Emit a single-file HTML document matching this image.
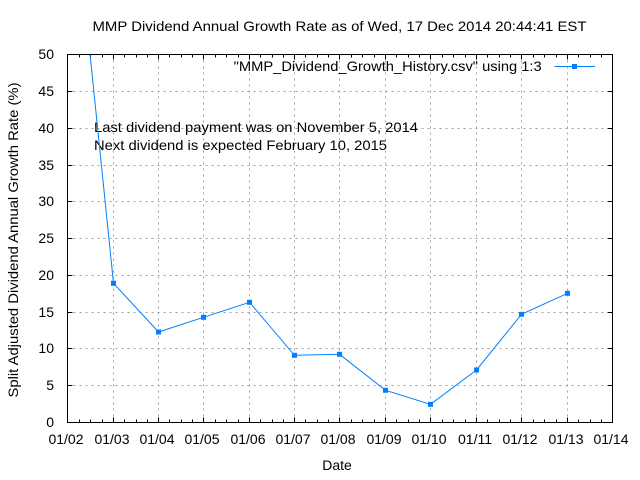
<!DOCTYPE html>
<html>
<head>
<meta charset="utf-8">
<style>
html,body{margin:0;padding:0;background:#fff;}
svg{display:block;}
text{font-family:"Liberation Sans",Arial,sans-serif;font-size:14px;fill:#000;}
</style>
</head>
<body>
<svg width="640" height="480" viewBox="0 0 640 480" xmlns="http://www.w3.org/2000/svg">
<rect x="0" y="0" width="640" height="480" fill="#fff"/>
<defs>
<clipPath id="pa"><rect x="67.5" y="54.5" width="545" height="368"/></clipPath>
</defs>

<!-- grid -->
<g stroke="#a0a0a0" stroke-width="1" stroke-dasharray="2,4" fill="none">
<path d="M113.5 54.5V422.5M158.5 54.5V422.5M203.5 54.5V422.5M249.5 54.5V422.5M294.5 54.5V422.5M339.5 54.5V422.5M385.5 54.5V422.5M430.5 54.5V422.5M476.5 54.5V422.5M521.5 54.5V422.5M567.5 54.5V422.5"/>
<path d="M67.5 91.5H612.5M67.5 128.5H612.5M67.5 165.5H612.5M67.5 201.5H612.5M67.5 238.5H612.5M67.5 275.5H612.5M67.5 312.5H612.5M67.5 348.5H612.5M67.5 385.5H612.5"/>
</g>

<!-- ticks -->
<g stroke="#000" stroke-width="1" fill="none">
<path d="M113.5 422.5v-5M158.5 422.5v-5M203.5 422.5v-5M249.5 422.5v-5M294.5 422.5v-5M339.5 422.5v-5M385.5 422.5v-5M430.5 422.5v-5M476.5 422.5v-5M521.5 422.5v-5M567.5 422.5v-5
M113.5 54.5v5M158.5 54.5v5M203.5 54.5v5M249.5 54.5v5M294.5 54.5v5M339.5 54.5v5M385.5 54.5v5M430.5 54.5v5M476.5 54.5v5M521.5 54.5v5M567.5 54.5v5"/>
<path d="M79.5 422.5v-3M90.5 422.5v-3M102.5 422.5v-3M124.5 422.5v-3M136.5 422.5v-3M147.5 422.5v-3M169.5 422.5v-3M181.5 422.5v-3M192.5 422.5v-3M215.5 422.5v-3M226.5 422.5v-3M238.5 422.5v-3M260.5 422.5v-3M272.5 422.5v-3M283.5 422.5v-3M305.5 422.5v-3M317.5 422.5v-3M328.5 422.5v-3M351.5 422.5v-3M362.5 422.5v-3M374.5 422.5v-3M396.5 422.5v-3M408.5 422.5v-3M419.5 422.5v-3M442.5 422.5v-3M453.5 422.5v-3M465.5 422.5v-3M487.5 422.5v-3M499.5 422.5v-3M510.5 422.5v-3M533.5 422.5v-3M544.5 422.5v-3M556.5 422.5v-3M578.5 422.5v-3M590.5 422.5v-3M601.5 422.5v-3"/>
<path d="M79.5 54.5v3M90.5 54.5v3M102.5 54.5v3M124.5 54.5v3M136.5 54.5v3M147.5 54.5v3M169.5 54.5v3M181.5 54.5v3M192.5 54.5v3M215.5 54.5v3M226.5 54.5v3M238.5 54.5v3M260.5 54.5v3M272.5 54.5v3M283.5 54.5v3M305.5 54.5v3M317.5 54.5v3M328.5 54.5v3M351.5 54.5v3M362.5 54.5v3M374.5 54.5v3M396.5 54.5v3M408.5 54.5v3M419.5 54.5v3M442.5 54.5v3M453.5 54.5v3M465.5 54.5v3M487.5 54.5v3M499.5 54.5v3M510.5 54.5v3M533.5 54.5v3M544.5 54.5v3M556.5 54.5v3M578.5 54.5v3M590.5 54.5v3M601.5 54.5v3"/>
<path d="M67.5 91.5h5M67.5 128.5h5M67.5 165.5h5M67.5 201.5h5M67.5 238.5h5M67.5 275.5h5M67.5 312.5h5M67.5 348.5h5M67.5 385.5h5
M612.5 91.5h-5M612.5 128.5h-5M612.5 165.5h-5M612.5 201.5h-5M612.5 238.5h-5M612.5 275.5h-5M612.5 312.5h-5M612.5 348.5h-5M612.5 385.5h-5"/>
</g>

<!-- border -->
<rect x="67.5" y="54.5" width="545" height="368" fill="none" stroke="#000" stroke-width="1"/>

<!-- title -->
<text x="339.5" y="31" text-anchor="middle" textLength="494" lengthAdjust="spacingAndGlyphs">MMP Dividend Annual Growth Rate as of Wed, 17 Dec 2014 20:44:41 EST</text>

<!-- y tick labels -->
<g text-anchor="end">
<text x="54" y="59">50</text>
<text x="54" y="96">45</text>
<text x="54" y="133">40</text>
<text x="54" y="170">35</text>
<text x="54" y="206">30</text>
<text x="54" y="243">25</text>
<text x="54" y="280">20</text>
<text x="54" y="317">15</text>
<text x="54" y="353">10</text>
<text x="54" y="390">5</text>
<text x="54" y="427">0</text>
</g>

<!-- x tick labels -->
<g text-anchor="middle">
<text x="66" y="444">01/02</text>
<text x="112" y="444">01/03</text>
<text x="157" y="444">01/04</text>
<text x="202" y="444">01/05</text>
<text x="248" y="444">01/06</text>
<text x="293" y="444">01/07</text>
<text x="338" y="444">01/08</text>
<text x="384" y="444">01/09</text>
<text x="429" y="444">01/10</text>
<text x="475" y="444">01/11</text>
<text x="520" y="444">01/12</text>
<text x="566" y="444">01/13</text>
<text x="611" y="444">01/14</text>
</g>

<!-- axis labels -->
<text x="337" y="470" text-anchor="middle">Date</text>
<text transform="translate(18,240) rotate(-90)" x="0" y="0" text-anchor="middle" textLength="315" lengthAdjust="spacingAndGlyphs">Split Adjusted Dividend Annual Growth Rate (%)</text>

<!-- annotations -->
<text x="94" y="132" textLength="324" lengthAdjust="spacingAndGlyphs">Last dividend payment was on November 5, 2014</text>
<text x="94" y="150" textLength="293" lengthAdjust="spacingAndGlyphs">Next dividend is expected February 10, 2015</text>

<!-- legend -->
<text x="541.7" y="71" text-anchor="end" textLength="308" lengthAdjust="spacingAndGlyphs">"MMP_Dividend_Growth_History.csv" using 1:3</text>
<path d="M554.5 66.5H595" stroke="#0080ff" stroke-width="1"/>
<rect x="572" y="64" width="5" height="5" fill="#0080ff"/>

<!-- data -->
<g clip-path="url(#pa)">
<path d="M67.5 -166L113.5 283.3L158.5 332L203.5 317.3L249.5 302.3L294.5 355.3L339.5 354.3L385.5 390.3L430.5 404.3L476.5 370L521.5 314.3L567.5 293.3" fill="none" stroke="#0080ff" stroke-width="1"/>
<g fill="#0080ff">
<rect x="111" y="280.8" width="5" height="5"/>
<rect x="156" y="329.5" width="5" height="5"/>
<rect x="201" y="314.8" width="5" height="5"/>
<rect x="247" y="299.8" width="5" height="5"/>
<rect x="292" y="352.8" width="5" height="5"/>
<rect x="337" y="351.8" width="5" height="5"/>
<rect x="383" y="387.8" width="5" height="5"/>
<rect x="428" y="401.8" width="5" height="5"/>
<rect x="474" y="367.5" width="5" height="5"/>
<rect x="519" y="311.8" width="5" height="5"/>
<rect x="565" y="290.8" width="5" height="5"/>
</g>
</g>
</svg>
</body>
</html>
